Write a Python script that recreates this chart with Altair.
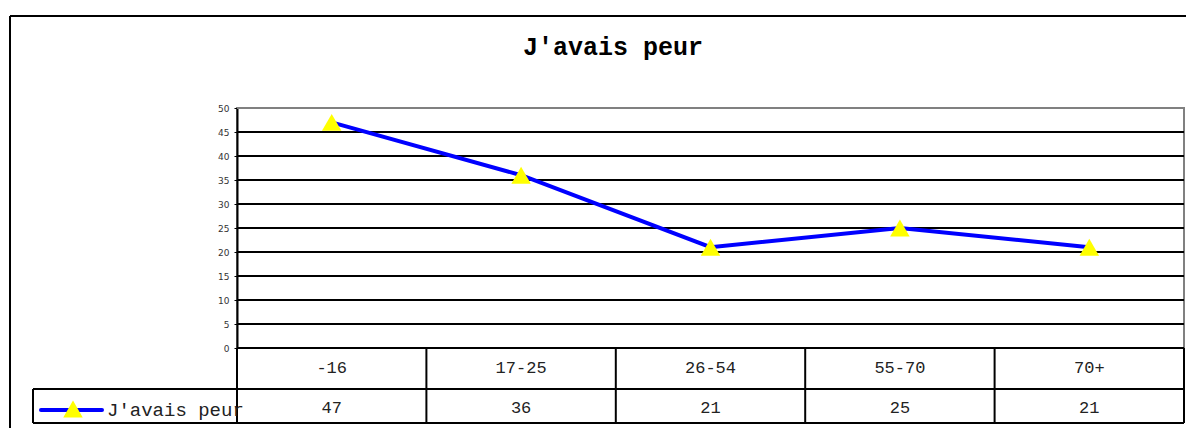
import altair as alt
import pandas as pd

categories = ["-16", "17-25", "26-54", "55-70", "70+"]
values = [47, 36, 21, 25, 21]
series_name = "J'avais peur"
title_text = "J'avais peur"
y_ticks = [0, 5, 10, 15, 20, 25, 30, 35, 40, 45, 50]

df = pd.DataFrame({"cat": categories, "val": values})
ticks_df = pd.DataFrame({"t": y_ticks})
one = pd.DataFrame({"k": [0]})

W, H = 947, 240
MONO = "Liberation Mono"

xscale = alt.Scale(type="band", domain=categories, paddingInner=0, paddingOuter=0)
yscale = alt.Scale(domain=[0, 50], nice=False, zero=True)

base = alt.Chart(df)
deco = alt.Chart(one)

# horizontal gridlines + y axis
grid = alt.Chart(ticks_df).mark_rule(color="black", strokeWidth=2).encode(
    y=alt.Y("t:Q", scale=yscale, axis=alt.Axis(
        values=y_ticks, tickCount=11, grid=False, labelOverlap=False,
        domainColor="black", domainWidth=2, tickColor="black", tickSize=3,
        tickWidth=1, labelFontSize=9, labelColor="#333333", labelFont="DejaVu Sans",
        labelPadding=5, labelFlush=False, title=None)),
    x=alt.value(0), x2=alt.value(W),
)

line = base.mark_line(color="#0000ff", strokeWidth=4).encode(
    x=alt.X("cat:N", scale=xscale, bandPosition=0.5, axis=None, sort=categories),
    y=alt.Y("val:Q", scale=yscale),
)

points = base.mark_point(shape="triangle-up", filled=True, color="#ffff00",
                         size=380, opacity=1).encode(
    x=alt.X("cat:N", scale=xscale, bandPosition=0.5, axis=None, sort=categories),
    y=alt.Y("val:Q", scale=yscale),
)

top_border = deco.mark_rule(color="#808080", strokeWidth=2).encode(
    x=alt.value(0), x2=alt.value(W), y=alt.value(0))

# outer frame (top & left edges visible)
frame_top = deco.mark_rule(color="black", strokeWidth=2).encode(
    x=alt.value(-227), x2=alt.value(1100), y=alt.value(-92))
frame_left = deco.mark_rule(color="black", strokeWidth=2).encode(
    x=alt.value(-227), y=alt.value(-92), y2=alt.value(500))

title = deco.mark_text(font=MONO, fontWeight="bold", fontSize=25, color="black",
                       align="center", baseline="middle").encode(
    x=alt.value(376), y=alt.value(-61), text=alt.value(title_text))

# data table
vlines = base.mark_rule(color="black", strokeWidth=2).encode(
    x=alt.X("cat:N", scale=xscale, bandPosition=0, axis=None, sort=categories),
    y=alt.value(240), y2=alt.value(315))
vline_right = deco.mark_rule(color="black", strokeWidth=2).encode(
    x=alt.value(W), y=alt.value(240), y2=alt.value(315))
vline_legend = deco.mark_rule(color="black", strokeWidth=2).encode(
    x=alt.value(-204), y=alt.value(281), y2=alt.value(315))
hline_mid = deco.mark_rule(color="black", strokeWidth=2).encode(
    x=alt.value(-204), x2=alt.value(W), y=alt.value(281))
hline_bot = deco.mark_rule(color="black", strokeWidth=2).encode(
    x=alt.value(-204), x2=alt.value(W), y=alt.value(315))

cat_text = base.mark_text(font=MONO, fontSize=17, color="#222222",
                          align="center", baseline="middle").encode(
    x=alt.X("cat:N", scale=xscale, bandPosition=0.5, axis=None, sort=categories),
    y=alt.value(260), text="cat:N")
val_text = base.mark_text(font=MONO, fontSize=17, color="#222222",
                          align="center", baseline="middle").encode(
    x=alt.X("cat:N", scale=xscale, bandPosition=0.5, axis=None, sort=categories),
    y=alt.value(300), text="val:Q")

# legend inside table
leg_line = deco.mark_rule(color="#0000ff", strokeWidth=4, strokeCap="round").encode(
    x=alt.value(-196), x2=alt.value(-135), y=alt.value(302))
leg_point = deco.mark_point(shape="triangle-up", filled=True, color="#ffff00",
                            size=380, opacity=1).encode(
    x=alt.value(-164), y=alt.value(301))
leg_text = deco.mark_text(font=MONO, fontSize=19, color="#222222",
                          align="left", baseline="middle").encode(
    x=alt.value(-130), y=alt.value(302), text=alt.value(series_name))

chart = alt.layer(
    grid, line, top_border, points,
    frame_top, frame_left, title,
    vlines, vline_right, vline_legend, hline_mid, hline_bot,
    cat_text, val_text, leg_line, leg_point, leg_text,
).properties(
    width=W, height=H,
    autosize=alt.AutoSizeParams(type="none"),
    padding={"left": 229, "top": 100, "right": 2, "bottom": 80},
).configure_view(stroke="#808080", strokeWidth=2)

chart.save("out.html", embed_options={"renderer": "svg", "actions": False})
